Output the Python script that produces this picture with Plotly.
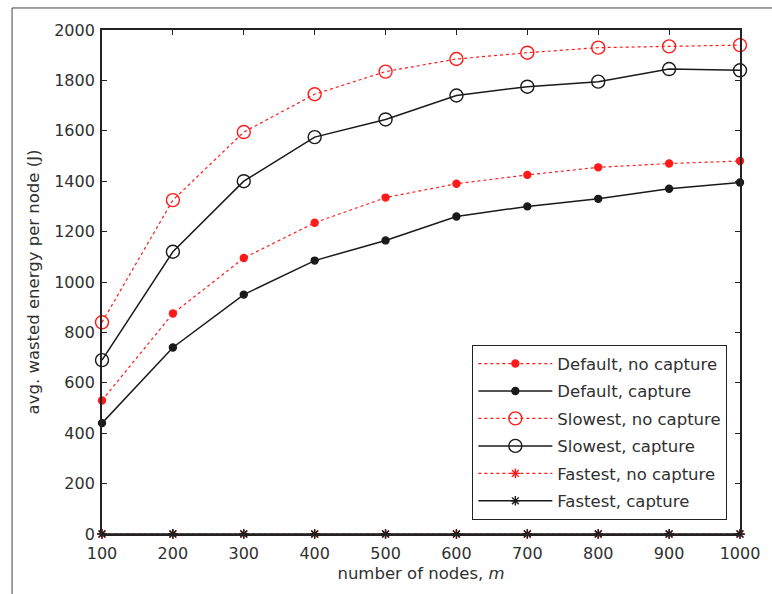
import plotly.graph_objects as go

nodes = [100, 200, 300, 400, 500, 600, 700, 800, 900, 1000]
default_no_capture = [530, 875, 1095, 1235, 1335, 1390, 1425, 1455, 1470, 1480]
default_capture = [440, 740, 950, 1085, 1165, 1260, 1300, 1330, 1370, 1395]
slowest_no_capture = [840, 1325, 1595, 1745, 1835, 1885, 1910, 1930, 1935, 1940]
slowest_capture = [690, 1120, 1400, 1575, 1645, 1740, 1775, 1795, 1845, 1840]
fastest_no_capture = [0, 0, 0, 0, 0, 0, 0, 0, 0, 0]
fastest_capture = [0, 0, 0, 0, 0, 0, 0, 0, 0, 0]

RED = "#ff1a1a"
BLK = "#1a1a1a"
FONT = "DejaVu Sans, Verdana, sans-serif"
TXT = "#303030"

series = [
    ("Default, no capture", default_no_capture, RED, "dot", 1.2, "circle", 7, RED),
    ("Default, capture", default_capture, BLK, "solid", 1.5, "circle", 7, BLK),
    ("Slowest, no capture", slowest_no_capture, RED, "dot", 1.2, "circle-open", 13, RED),
    ("Slowest, capture", slowest_capture, BLK, "solid", 1.5, "circle-open", 13, BLK),
    ("Fastest, no capture", fastest_no_capture, RED, "dot", 1.2, "asterisk-open", 8, RED),
    ("Fastest, capture", fastest_capture, BLK, "solid", 1.5, "asterisk-open", 8, BLK),
]

fig = go.Figure()
for i, (name, ys, col, dash, w, sym, sz, mcol) in enumerate(series):
    fig.add_trace(go.Scatter(
        x=nodes, y=ys, name=name, mode="lines+markers",
        line=dict(color=col, dash=dash, width=w),
        marker=dict(symbol=sym, size=sz, color=mcol, line=dict(color=mcol, width=1.4)),
        cliponaxis=False, legendgroup="g%d" % i,
    ))

axis_common = dict(
    showgrid=False, zeroline=False, showline=True, linecolor="#222", linewidth=1.8,
    mirror="ticks", ticks="inside", ticklen=5, tickcolor="#222", tickwidth=1.2,
    tickfont=dict(family=FONT, size=16, color=TXT),
)

fig.update_layout(
    width=772, height=594,
    margin=dict(l=102, r=25, t=30, b=60),
    paper_bgcolor="white", plot_bgcolor="white",
    font=dict(family=FONT, color=TXT),
    xaxis=dict(range=[100, 1000], tick0=100, dtick=100, ticklabelstandoff=4, **axis_common,
               title=dict(text="number of nodes, <i>m</i>", font=dict(family=FONT, size=16.5, color=TXT), standoff=5)),
    yaxis=dict(range=[0, 2000], dtick=200, ticklabelstandoff=2, **axis_common,
               title=dict(text="avg. wasted energy per node (J)", font=dict(family=FONT, size=16.5, color=TXT), standoff=10)),
    legend=dict(x=0.58, y=0.375, xanchor="left", yanchor="top",
                bgcolor="white", bordercolor="#222", borderwidth=1.3,
                font=dict(family=FONT, size=16.5, color=TXT),
                tracegroupgap=3, itemwidth=74),
    shapes=[dict(type="rect", xref="paper", yref="paper",
                 x0=-0.141, x1=1.3, y0=-0.3, y1=1.0437,
                 line=dict(color="#444", width=1), layer="below")],
    showlegend=True,
)

fig.write_html("out.html")
